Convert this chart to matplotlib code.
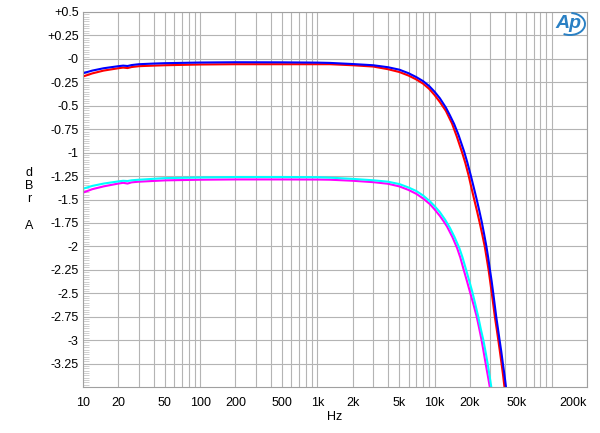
import matplotlib
matplotlib.use("Agg")
import matplotlib.pyplot as plt
from matplotlib.patches import Arc
from matplotlib.ticker import FixedLocator, NullFormatter

# ---- data ----
blue_f = [10, 12, 15, 20, 22, 24, 26, 30, 40, 50, 100, 200, 500, 1000, 1280, 2000, 3000, 4000,
          5000, 6000, 7000, 8000, 9000, 10000, 11100, 12500, 13500, 14700, 16000, 17900, 19000,
          20400, 21600, 22900, 24100, 25300, 26500, 27700, 28700, 29700, 30700, 31700, 32600,
          33600, 34700, 35900, 37100, 38300, 39500, 40700]
blue_db = [-0.153, -0.125, -0.100, -0.078, -0.072, -0.076, -0.066, -0.057, -0.050, -0.046,
           -0.039, -0.036, -0.037, -0.040, -0.043, -0.055, -0.068, -0.089, -0.115, -0.153,
           -0.195, -0.238, -0.290, -0.350, -0.420, -0.520, -0.600, -0.695, -0.810, -0.990,
           -1.100, -1.245, -1.370, -1.500, -1.620, -1.740, -1.870, -2.000, -2.120, -2.250,
           -2.370, -2.500, -2.620, -2.750, -2.870, -3.000, -3.120, -3.250, -3.370, -3.500]

red_f = [10, 12, 15, 20, 22, 24, 26, 30, 40, 50, 100, 200, 500, 1000, 1280, 2000, 3000, 4000,
         5000, 6000, 7000, 8000, 9000, 10000, 11100, 12500, 13300, 14100, 15500, 17200, 18300,
         19500, 20600, 21800, 23000, 24300, 25500, 26800, 27800, 28900, 29800, 30800, 31700,
         32700, 33800, 35000, 36100, 37300, 38400, 39500]
red_db = [-0.188, -0.155, -0.125, -0.100, -0.093, -0.098, -0.087, -0.078, -0.072, -0.068,
          -0.060, -0.057, -0.057, -0.057, -0.057, -0.068, -0.082, -0.110, -0.140, -0.178,
          -0.220, -0.265, -0.320, -0.385, -0.460, -0.555, -0.625, -0.690, -0.830, -1.000,
          -1.110, -1.240, -1.370, -1.500, -1.620, -1.750, -1.870, -2.000, -2.120, -2.250,
          -2.370, -2.500, -2.620, -2.750, -2.870, -3.000, -3.120, -3.250, -3.370, -3.500]

cyan_f = [10, 12, 15, 20, 22, 24, 26, 30, 50, 100, 200, 500, 1000, 1280, 2000, 3000, 4000,
          5000, 6000, 7000, 8000, 9140, 10000, 11100, 12300, 13500, 14800, 16300, 17300, 18400,
          19700, 21000, 22300, 23600, 24800, 26100, 27200, 28400, 29400, 30500]
cyan_db = [-1.385, -1.355, -1.330, -1.307, -1.300, -1.303, -1.295, -1.289, -1.272, -1.265,
           -1.260, -1.260, -1.262, -1.267, -1.280, -1.295, -1.310, -1.335, -1.372, -1.410,
           -1.458, -1.520, -1.570, -1.635, -1.715, -1.800, -1.900, -2.020, -2.115, -2.230,
           -2.360, -2.485, -2.620, -2.750, -2.880, -3.000, -3.120, -3.250, -3.370, -3.500]

mag_f = [10, 12, 15, 20, 22, 24, 26, 30, 50, 100, 200, 500, 1000, 1280, 2000, 3000, 4000,
         5000, 6000, 7000, 8000, 9140, 10000, 11100, 12000, 12800, 14200, 15600, 16600, 17600,
         18900, 20200, 21500, 22900, 24000, 25200, 26200, 27300, 28400, 29600]
mag_db = [-1.427, -1.390, -1.360, -1.330, -1.322, -1.330, -1.317, -1.310, -1.296, -1.289,
          -1.286, -1.286, -1.287, -1.289, -1.300, -1.315, -1.332, -1.360, -1.398, -1.440,
          -1.490, -1.550, -1.605, -1.675, -1.735, -1.790, -1.900, -2.020, -2.120, -2.235,
          -2.370, -2.500, -2.620, -2.750, -2.870, -3.000, -3.120, -3.250, -3.370, -3.500]

x_ticks = [10, 20, 50, 100, 200, 500, 1000, 2000, 5000, 10000, 20000, 50000, 200000]
x_labels = ["10", "20", "50", "100", "200", "500", "1k", "2k", "5k", "10k", "20k", "50k", "200k"]
y_ticks = [0.5, 0.25, 0, -0.25, -0.5, -0.75, -1, -1.25, -1.5, -1.75, -2, -2.25, -2.5,
           -2.75, -3, -3.25]
y_labels = ["+0.5", "+0.25", "-0", "-0.25", "-0.5", "-0.75", "-1", "-1.25", "-1.5", "-1.75",
            "-2", "-2.25", "-2.5", "-2.75", "-3", "-3.25"]

# ---- figure ----
plt.rcParams['font.family'] = ['Liberation Sans', 'DejaVu Sans']
fig = plt.figure(figsize=(6, 4.33), dpi=100)
ax = fig.add_axes([83 / 600, 1 - 387 / 433, 504 / 600, 375 / 433])

ax.set_xscale('log')
ax.set_xlim(10, 200000)
ax.set_ylim(-3.5, 0.5)

minor = []
for dec in [10, 100, 1000, 10000, 100000]:
    for m in range(1, 10):
        v = dec * m
        if 10 <= v <= 200000 and v not in x_ticks:
            minor.append(v)
ax.xaxis.set_major_locator(FixedLocator(x_ticks))
ax.xaxis.set_minor_locator(FixedLocator(minor))
ax.xaxis.set_minor_formatter(NullFormatter())
ax.set_xticklabels(x_labels)
ax.set_yticks(y_ticks)
ax.set_yticklabels(y_labels)
ax.yaxis.set_minor_locator(FixedLocator([0.5 - 0.025 * i for i in range(161)]))

gcol = '#b4b4b4'
ax.grid(True, which='major', axis='both', color=gcol, lw=0.8)
ax.grid(True, which='minor', axis='x', color=gcol, lw=0.8)
ax.set_axisbelow(True)

ax.tick_params(axis='x', which='both', length=0, labelsize=9, pad=7, colors='black')
ax.tick_params(axis='y', which='major', length=0, labelsize=9, pad=3)
ax.tick_params(axis='y', which='minor', direction='in', length=4, width=0.6, color='#c8c8c8')
for s in ax.spines.values():
    s.set_color('#a0a0a0')
    s.set_linewidth(0.8)

lbls = ax.get_xticklabels()
lbls[-1].set_horizontalalignment('right')

lw = 1.5
ax.plot(mag_f, mag_db, color='#ff00ff', lw=lw)
ax.plot(cyan_f, cyan_db, color='#00ffff', lw=lw)
ax.plot(red_f, red_db, color='#ff0000', lw=lw)
ax.plot(blue_f, blue_db, color='#0000ff', lw=lw)

fig.text(335 / 600, 1 - 417 / 433, "Hz", ha='center', va='center', fontsize=9)
fig.text(29 / 600, 1 - 199.5 / 433, "d\nB\nr\n\nA", ha='center', va='center', fontsize=9,
         linespacing=1.12)

# Ap logo
logo_c = '#2a80c4'
fig.text(568 / 600, 1 - 24 / 433, "Ap", ha='center', va='center', fontsize=14,
         fontstyle='italic', fontweight='bold', color=logo_c)
arc = Arc((570 / 600, 1 - 24 / 433), 30 / 600, 22 / 433, angle=0, theta1=-115, theta2=85,
          transform=fig.transFigure, color=logo_c, lw=1.4)
fig.add_artist(arc)

fig.savefig("out.png", dpi=100, facecolor='white')
